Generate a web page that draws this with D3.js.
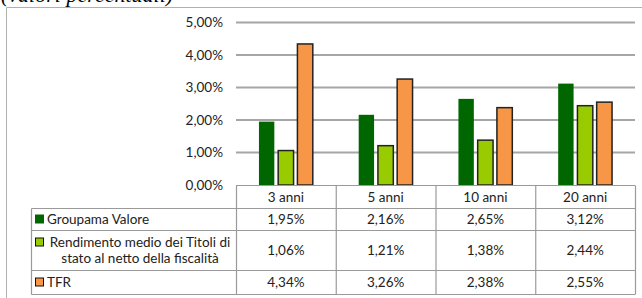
<!DOCTYPE html>
<html>
<head>
<meta charset="utf-8">
<script src="https://cdn.jsdelivr.net/npm/d3@7"></script>
<style>
  body { margin: 0; background: #fff; }
  svg { display: block; font-family: Lato, "Open Sans", sans-serif; }
</style>
</head>
<body>
<div id="chart"></div>
<script>
// Chart data
var categories = ["3 anni", "5 anni", "10 anni", "20 anni"];
var seriesNames = ["Groupama Valore", "Rendimento medio dei Titoli di stato al netto della fiscalità", "TFR"];
var legendLines = [["Groupama Valore"], ["Rendimento medio dei Titoli di", "stato al netto della fiscalità"], ["TFR"]];
var groupamaValues = [1.95, 2.16, 2.65, 3.12];
var titoliValues = [1.06, 1.21, 1.38, 2.44];
var tfrValues = [4.34, 3.26, 2.38, 2.55];
var yTicks = [0, 1, 2, 3, 4, 5];

var seriesValues = [groupamaValues, titoliValues, tfrValues];
var colors = ["#006600", "#99cc00", "#f79646"];
var strokes = ["none", "#222", "#222"];

var width = 642, height = 298;

var svg = d3.select("#chart")
    .append("svg")
    .attr("width", width)
    .attr("height", height);

// Formatter with comma decimal
var it = d3.formatLocale({ decimal: ",", thousands: ".", grouping: [3], currency: ["€", ""] });
var pct = function(v) { return it.format(".2f")(v) + "%"; };

// Title, cut off by the top edge as in the source
svg.append("text")
   .attr("x", 1)
   .attr("y", 2)
   .attr("font-family", "'Liberation Serif', serif")
   .attr("font-style", "italic")
   .attr("font-size", 22)
   .text("(valori percentuali)");

// Outer frame
svg.append("path")
   .attr("d", "M6.5,298 V7.5 H642")
   .attr("fill", "none")
   .attr("stroke", "#b0b0b0")
   .attr("stroke-width", 1);

// Scales
var x = d3.scaleBand()
          .domain(categories)
          .range([236, 635]);

var xs = d3.scaleBand()
           .domain(d3.range(seriesNames.length))
           .range([x.bandwidth() * 0.23, x.bandwidth() * 0.77])
           .paddingInner(0.2);

var y = d3.scaleLinear()
          .domain([0, 5])
          .range([185, 22.5]);

// Gridlines
svg.append("g")
   .selectAll("line")
   .data(yTicks.slice(1))
   .enter()
   .append("line")
   .attr("x1", 236)
   .attr("x2", 635)
   .attr("y1", function(d) { return y(d); })
   .attr("y2", function(d) { return y(d); })
   .attr("stroke", "#a6a6a6")
   .attr("stroke-width", 2);

// Y axis labels
svg.append("g")
   .selectAll("text")
   .data(yTicks)
   .enter()
   .append("text")
   .attr("x", 223)
   .attr("y", function(d) { return y(d) + 4.5; })
   .attr("text-anchor", "end")
   .attr("font-size", 13.5)
   .attr("fill", "#222")
   .text(pct);

// Bars
var groups = svg.append("g")
   .selectAll("g")
   .data(categories)
   .enter()
   .append("g")
   .attr("transform", function(d) { return "translate(" + x(d) + ",0)"; });

groups.selectAll("rect")
   .data(function(d, i) { return seriesValues.map(function(s, k) { return { k: k, v: s[i] }; }); })
   .enter()
   .append("rect")
   .attr("x", function(d) { return xs(d.k); })
   .attr("y", function(d) { return y(d.v); })
   .attr("width", xs.bandwidth())
   .attr("height", function(d) { return y(0) - y(d.v); })
   .attr("fill", function(d) { return colors[d.k]; })
   .attr("stroke", function(d) { return strokes[d.k]; })
   .attr("stroke-width", 1.5);

// Data table
var rowTops = [185, 208, 230, 270, 294];
var tableLeft = 31.5;
var grid = svg.append("g")
   .attr("stroke", "#9a9a9a")
   .attr("stroke-width", 1.2)
   .attr("fill", "none");

// horizontal lines
rowTops.forEach(function(t, i) {
    grid.append("line")
        .attr("x1", i === 0 ? 236 : tableLeft)
        .attr("x2", 635)
        .attr("y1", t + 0.5)
        .attr("y2", t + 0.5);
});
// vertical lines
grid.append("line").attr("x1", tableLeft).attr("x2", tableLeft).attr("y1", rowTops[1] + 0.5).attr("y2", rowTops[4] + 0.5);
categories.concat(["end"]).forEach(function(c, i) {
    var xx = i < categories.length ? x(c) : x.range()[1];
    grid.append("line")
        .attr("x1", xx + 0.5).attr("x2", xx + 0.5)
        .attr("y1", rowTops[0] + 0.5).attr("y2", rowTops[4] + 0.5);
});

// header labels
svg.append("g")
   .selectAll("text")
   .data(categories)
   .enter()
   .append("text")
   .attr("x", function(d) { return x(d) + x.bandwidth() / 2; })
   .attr("y", (rowTops[0] + rowTops[1]) / 2 + 5)
   .attr("text-anchor", "middle")
   .attr("font-size", 13.5)
   .attr("fill", "#222")
   .text(function(d) { return d; });

// value cells and legend
seriesValues.forEach(function(vals, k) {
    var mid = (rowTops[k + 1] + rowTops[k + 2]) / 2;
    svg.append("g")
       .selectAll("text")
       .data(vals)
       .enter()
       .append("text")
       .attr("x", function(d, i) { return x(categories[i]) + x.bandwidth() / 2; })
       .attr("y", mid + 5)
       .attr("text-anchor", "middle")
       .attr("font-size", 13.5)
       .attr("fill", "#222")
       .text(pct);

    var lines = legendLines[k];
    svg.append("rect")
       .attr("x", 35.5)
       .attr("y", (lines.length > 1 ? mid - 8 : mid) - 4)
       .attr("width", 8)
       .attr("height", 8)
       .attr("fill", colors[k])
       .attr("stroke", k === 0 ? colors[k] : "#111")
       .attr("stroke-width", 1);

    var lt = svg.append("text")
       .attr("font-size", 13.5)
       .attr("fill", "#222");
    lines.forEach(function(l, j) {
        lt.append("tspan")
          .attr("x", lines.length > 1 ? 140 : 47)
          .attr("text-anchor", lines.length > 1 ? "middle" : "start")
          .attr("y", mid + 5 + (lines.length > 1 ? (j === 0 ? -8 : 8) : 0))
          .text(l);
    });
});
</script>
</body>
</html>
